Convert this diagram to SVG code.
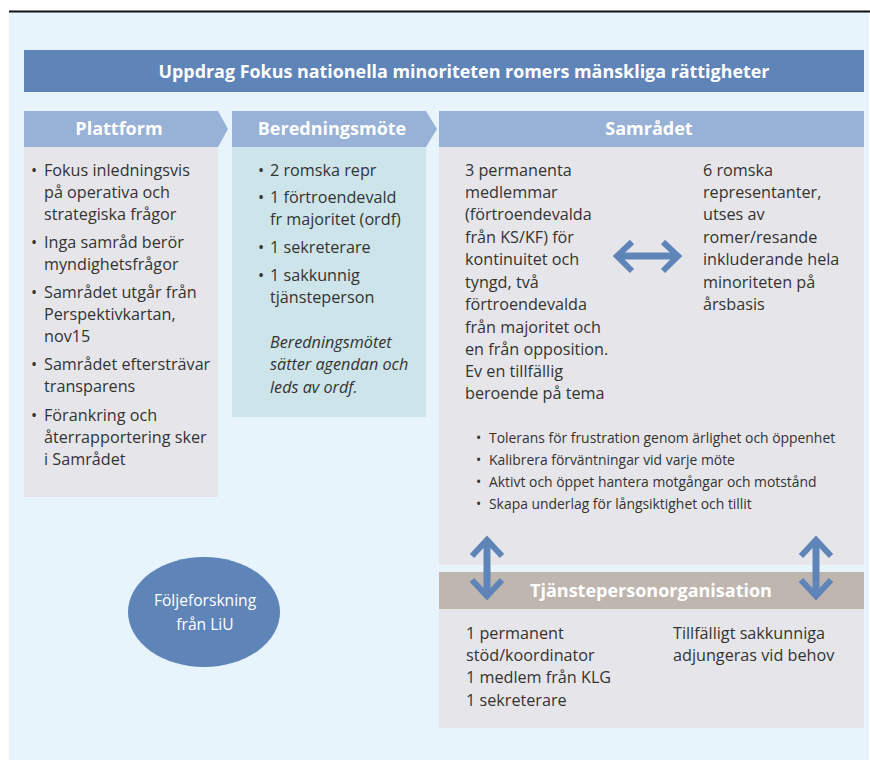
<svg xmlns="http://www.w3.org/2000/svg" width="870" height="760" viewBox="0 0 870 760">
<style>
.hd{font-family:"Open Sans","Liberation Sans",sans-serif;font-weight:bold;font-size:18px;fill:#fff;text-anchor:middle}
.tt{font-size:17.9px}
.tx{font-family:"Open Sans","Liberation Sans",sans-serif;font-size:16.2px;fill:#333}
.sm{font-family:"Open Sans","Liberation Sans",sans-serif;font-size:13.9px;fill:#333}
.it{font-style:italic}
.el{font-family:"Open Sans","Liberation Sans",sans-serif;font-size:15.6px;fill:#fff;text-anchor:middle}
.ar{fill:none;stroke:#5F84B8;stroke-width:6}
</style>
<rect x="0" y="0" width="870" height="760" fill="#fff"/>
<rect x="9" y="12" width="860" height="748" fill="#E8F4FC"/>
<line x1="9" y1="11.5" x2="870" y2="11.5" stroke="#111" stroke-width="2"/>

<g id="title">
<rect x="24" y="50" width="840" height="42" fill="#5F84B8"/>
<text class="hd tt" x="464" y="78">Uppdrag Fokus nationella minoriteten romers mänskliga rättigheter</text>
</g>

<g id="plattform">
<polygon points="24,111 218,111 228,129 218,147 24,147" fill="#98B1D6"/>
<text class="hd" x="119" y="135">Plattform</text>
<rect x="24" y="147" width="194" height="350" fill="#E6E6EA"/>
<g class="tx">
<text x="31" y="176">•</text><text x="44" y="176">Fokus inledningsvis</text>
<text x="44" y="198">på operativa och</text>
<text x="44" y="220">strategiska frågor</text>
<text x="31" y="248">•</text><text x="44" y="248">Inga samråd berör</text>
<text x="44" y="270">myndighetsfrågor</text>
<text x="31" y="298">•</text><text x="44" y="298">Samrådet utgår från</text>
<text x="44" y="320">Perspektivkartan,</text>
<text x="44" y="342">nov15</text>
<text x="31" y="370">•</text><text x="44" y="370">Samrådet eftersträvar</text>
<text x="44" y="392">transparens</text>
<text x="31" y="421">•</text><text x="44" y="421">Förankring och</text>
<text x="44" y="443">återrapportering sker</text>
<text x="44" y="465">i Samrådet</text>
</g>
</g>

<g id="beredningsmote">
<polygon points="232,111 426,111 437,129 426,147 232,147" fill="#98B1D6"/>
<text class="hd" x="332" y="135">Beredningsmöte</text>
<rect x="232" y="147" width="194" height="270" fill="#CDE5EA"/>
<g class="tx">
<text x="258" y="176">•</text><text x="270" y="176">2 romska repr</text>
<text x="258" y="203">•</text><text x="270" y="203">1 förtroendevald</text>
<text x="270" y="225">fr majoritet (ordf)</text>
<text x="258" y="253">•</text><text x="270" y="253">1 sekreterare</text>
<text x="258" y="281">•</text><text x="270" y="281">1 sakkunnig</text>
<text x="270" y="303">tjänsteperson</text>
<text class="it" x="270" y="348">Beredningsmötet</text>
<text class="it" x="270" y="370">sätter agendan och</text>
<text class="it" x="270" y="393">leds av ordf.</text>
</g>
</g>

<g id="samradet">
<rect x="439" y="111" width="425" height="36" fill="#98B1D6"/>
<text class="hd" x="649" y="135">Samrådet</text>
<rect x="439" y="147" width="425" height="418" fill="#E6E6EA"/>
<g class="tx">
<text x="465" y="176">3 permanenta</text>
<text x="465" y="198">medlemmar</text>
<text x="465" y="220">(förtroendevalda</text>
<text x="465" y="243">från KS/KF) för</text>
<text x="465" y="265">kontinuitet och</text>
<text x="465" y="288">tyngd, två</text>
<text x="465" y="310">förtroendevalda</text>
<text x="465" y="333">från majoritet och</text>
<text x="465" y="355">en från opposition.</text>
<text x="465" y="377">Ev en tillfällig</text>
<text x="465" y="399">beroende på tema</text>
<text x="703" y="176">6 romska</text>
<text x="703" y="198">representanter,</text>
<text x="703" y="220">utses av</text>
<text x="703" y="243">romer/resande</text>
<text x="703" y="265">inkluderande hela</text>
<text x="703" y="288">minoriteten på</text>
<text x="703" y="310">årsbasis</text>
</g>
<g class="sm">
<text x="476" y="443">•</text><text x="489" y="443">Tolerans för frustration genom ärlighet och öppenhet</text>
<text x="476" y="465">•</text><text x="489" y="465">Kalibrera förväntningar vid varje möte</text>
<text x="476" y="487">•</text><text x="489" y="487">Aktivt och öppet hantera motgångar och motstånd</text>
<text x="476" y="509">•</text><text x="489" y="509">Skapa underlag för långsiktighet och tillit</text>
</g>
</g>

<g id="tjanstepersonorganisation">
<rect x="439" y="572" width="425" height="37" fill="#BFB6AF"/>
<text class="hd" x="651" y="597">Tjänstepersonorganisation</text>
<rect x="439" y="609" width="425" height="119" fill="#E6E6EA"/>
<g class="tx">
<text x="466" y="639">1 permanent</text>
<text x="466" y="661">stöd/koordinator</text>
<text x="466" y="683">1 medlem från KLG</text>
<text x="466" y="706">1 sekreterare</text>
<text x="673" y="639">Tillfälligt sakkunniga</text>
<text x="673" y="661">adjungeras vid behov</text>
</g>
</g>

<g id="foljeforskning">
<ellipse cx="204" cy="612" rx="76" ry="55" fill="#5F84B8"/>
<text class="el" x="205" y="606">Följeforskning</text>
<text class="el" x="205" y="630">från LiU</text>
</g>

<g id="connectors">
<line x1="617" y1="256" x2="677" y2="256" stroke="#5F84B8" stroke-width="7"/>
<polyline class="ar" points="632,242 617,256 632,271"/>
<polyline class="ar" points="663,242 678,256 663,271"/>
<line x1="487" y1="541" x2="487" y2="595" stroke="#5F84B8" stroke-width="7"/>
<polyline class="ar" points="472,556 487,540 502,556"/>
<polyline class="ar" points="472,580 487,596 502,580"/>
<line x1="816" y1="541" x2="816" y2="595" stroke="#5F84B8" stroke-width="7"/>
<polyline class="ar" points="801,556 816,540 831,556"/>
<polyline class="ar" points="801,580 816,596 831,580"/>
</g>
</svg>
